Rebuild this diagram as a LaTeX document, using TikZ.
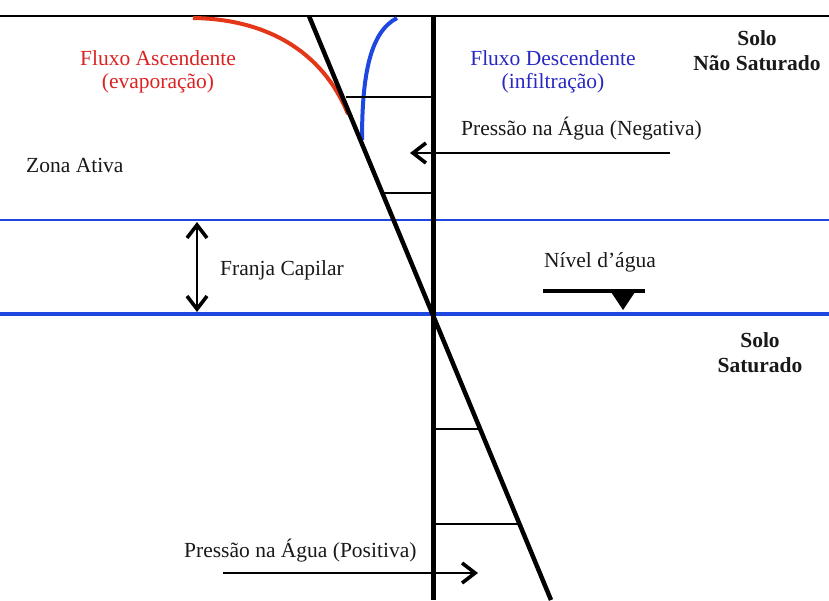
\documentclass[tikz,border=0pt]{standalone}
\usepackage{fontspec}
\setmainfont{Liberation Serif}
\usetikzlibrary{arrows.meta}
\definecolor{redc}{RGB}{228,55,25}
\definecolor{bluec}{RGB}{30,70,225}
\definecolor{bluetxt}{RGB}{40,40,195}
\definecolor{redtxt}{RGB}{220,35,35}
\definecolor{txtc}{RGB}{25,25,25}
\begin{document}
\begin{tikzpicture}[x=1pt,y=-1pt,
  txt/.style={font=\fontsize{21.5}{24}\selectfont, inner sep=0pt, text=txtc},
  btxt/.style={font=\fontsize{21.5}{24}\selectfont\bfseries, inner sep=0pt, text=txtc},
  barb/.tip={Straight Barb[length=13pt,width=20pt,line width=3.6pt]},
  arr/.style={line width=2.6pt, -barb},
  darr/.style={line width=2.6pt, barb-barb},
  tick/.style={line width=2pt},
  curve/.style={line width=4pt}]
\useasboundingbox (0,0) rectangle (829,600);
\fill[white] (0,0) rectangle (829,600);

% coordinates
\coordinate (topL) at (0,16);
\coordinate (topR) at (829,16);
\coordinate (vT) at (433.5,15);
\coordinate (vB) at (433.5,600);
\coordinate (dT) at (309,16);
\coordinate (dB) at (551,600);
\coordinate (b1L) at (0,220);
\coordinate (b1R) at (829,220);
\coordinate (b2L) at (0,314);
\coordinate (b2R) at (829,314);

% blue layer lines
\draw[bluec, line width=1.4pt] (b1L) -- (b1R);
\draw[bluec, line width=3.6pt] (b2L) -- (b2R);

% top surface
\draw[line width=2.6pt] (topL) -- (topR);

% flux curves
\coordinate (rS) at (193,18);
\coordinate (rE) at (348,114);
\draw[redc, curve] (rS) .. controls (265,19) and (322,50) .. (rE);
\coordinate (bS) at (397,18);
\coordinate (bE) at (362,140);
\draw[bluec, curve] (bS) .. controls (370,32) and (362,75) .. (bE);

% pressure ticks
\coordinate (t1a) at (346,97);   \coordinate (t1b) at (433,97);
\coordinate (t2a) at (382,193);  \coordinate (t2b) at (433,193);
\coordinate (t3a) at (433,429);  \coordinate (t3b) at (478,429);
\coordinate (t4a) at (433,524);  \coordinate (t4b) at (519,524);
\draw[tick] (t1a) -- (t1b);
\draw[tick] (t2a) -- (t2b);
\draw[tick] (t3a) -- (t3b);
\draw[tick] (t4a) -- (t4b);

% main lines
\draw[line width=4.5pt] (vT) -- (vB);
\draw[line width=4.5pt] (dT) -- (dB);

% arrows
\coordinate (negS) at (670,153);
\coordinate (negE) at (410,153);
\draw[arr] (negS) -- (negE);
\coordinate (posS) at (223,573);
\coordinate (posE) at (478,573);
\draw[arr] (posS) -- (posE);
\coordinate (fcT) at (197,222);
\coordinate (fcB) at (197,312);
\draw[darr] (fcT) -- (fcB);

% water level symbol
\coordinate (wlL) at (543,291);
\coordinate (wlR) at (645,291);
\draw[line width=3.6pt] (wlL) -- (wlR);
\fill (611,292) -- (635,292) -- (623,310) -- cycle;

% texts
\node[txt, text=redtxt, anchor=base] (fa1) at (158,65) {Fluxo Ascendente};
\node[txt, text=redtxt, anchor=base] (fa2) at (158,88) {(evaporação)};
\node[txt, text=bluetxt, anchor=base] (fd1) at (553,65) {Fluxo Descendente};
\node[txt, text=bluetxt, anchor=base] (fd2) at (553,88) {(infiltração)};
\node[btxt, anchor=base] (sns1) at (757,45) {Solo};
\node[btxt, anchor=base] (sns2) at (757,70) {Não Saturado};
\node[txt, anchor=base west] (neg) at (461,135) {Pressão na Água (Negativa)};
\node[txt, anchor=base west] (za) at (26,172) {Zona Ativa};
\node[txt, anchor=base west] (fc) at (220,275) {Franja Capilar};
\node[txt, anchor=base] (na) at (600,267) {Nível d’água};
\node[btxt, anchor=base] (ss1) at (760,347) {Solo};
\node[btxt, anchor=base] (ss2) at (760,372) {Saturado};
\node[txt, anchor=base west] (pos) at (184,557) {Pressão na Água (Positiva)};
\end{tikzpicture}
\end{document}
